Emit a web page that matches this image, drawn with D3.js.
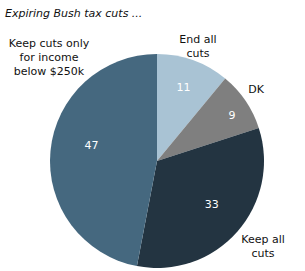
<!DOCTYPE html>
<html><head><meta charset="utf-8">
<script src="https://cdn.jsdelivr.net/npm/d3@7"></script>
<style>body{margin:0;background:#fff}svg{display:block}text{font-family:"DejaVu Sans",Verdana,sans-serif}</style>
</head><body>
<script>
const categories = ["End all cuts", "DK", "Keep all cuts", "Keep cuts only for income below $250k"];
const values = [11, 9, 33, 47];
const colors = ["#a9c3d4", "#7f7f7f", "#233441", "#45687f"];
const labelLines = [["End all","cuts"],["DK"],["Keep all","cuts"],["Keep cuts only","for income","below $250k"]];
const title = "Expiring Bush tax cuts ...";

const W = 305, H = 271, cx = 157, cy = 161, R = 107;
const svg = d3.select("body").append("svg").attr("width", W).attr("height", H);
svg.append("text").attr("x", 5).attr("y", 17).attr("font-size", 11).attr("font-style", "italic").attr("fill", "#111").text(title);

const pie = d3.pie().sort(null).value(d => d);
const arcs = pie(values);
const arc = d3.arc().innerRadius(0).outerRadius(R);
const g = svg.append("g").attr("transform", `translate(${cx},${cy})`);
g.selectAll("path").data(arcs).join("path").attr("d", arc).attr("fill", (d, i) => colors[i]);

const radFrac = [0.73, 0.82, 0.65, 0.63];
const angOff = [0, 0.05, -0.06, 0.15];
g.selectAll("text.v").data(arcs).join("text").attr("class", "v")
  .attr("transform", (d, i) => {
    const a = (d.startAngle + d.endAngle) / 2 + angOff[i], r = R * radFrac[i];
    return `translate(${Math.sin(a) * r},${-Math.cos(a) * r})`;
  })
  .attr("text-anchor", "middle").attr("dy", "0.35em").attr("font-size", 11).attr("fill", "#fff")
  .text(d => d.data);

const outer = [[198, 39], [256, 89], [263, 239], [49, 43]];
svg.selectAll("text.l").data(labelLines).join("text").attr("class", "l")
  .attr("text-anchor", "middle").attr("font-size", 11).attr("fill", "#111")
  .each(function(lines, i) {
    const t = d3.select(this);
    lines.forEach((ln, j) => t.append("tspan").attr("x", outer[i][0]).attr("y", outer[i][1] + j * 13.8 + 4).text(ln));
  });
</script>
</body></html>
